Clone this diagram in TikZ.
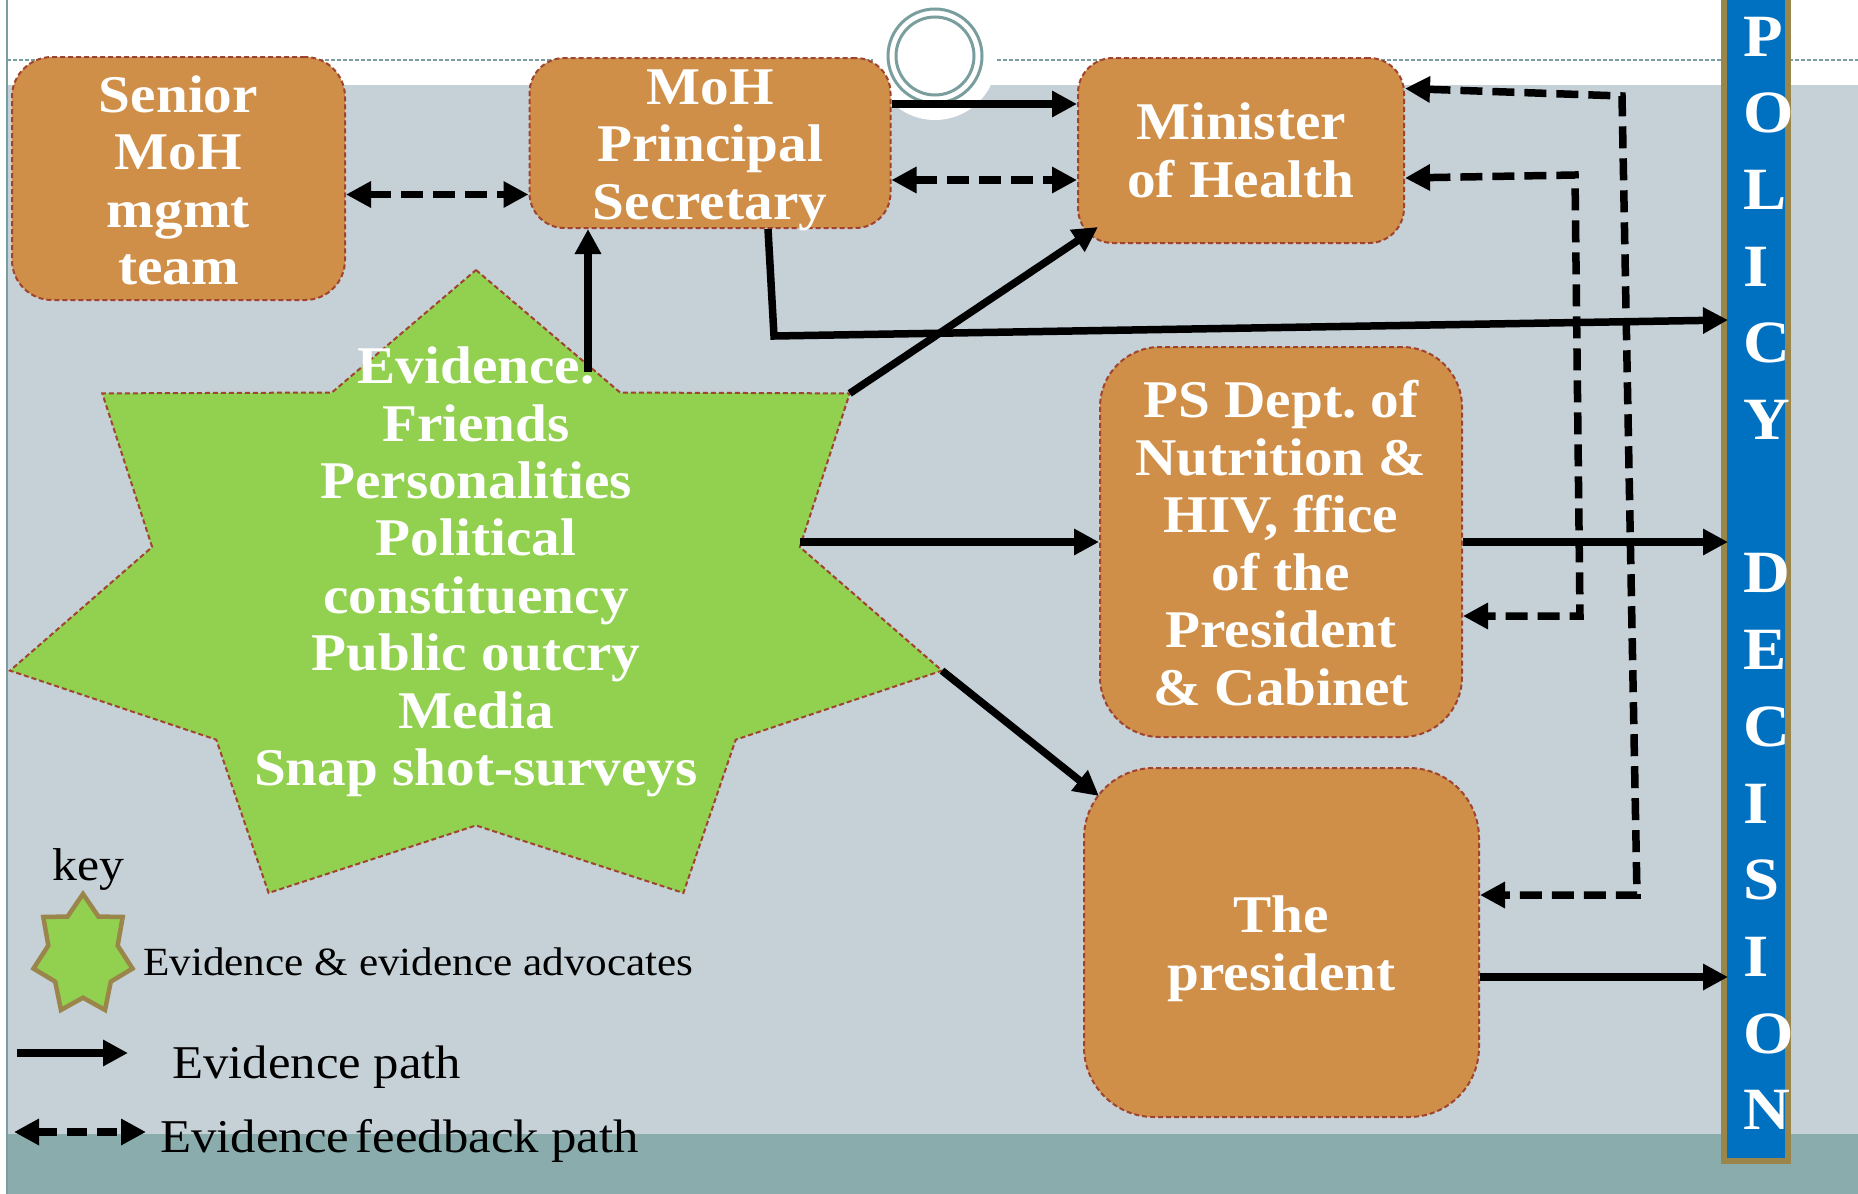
\documentclass[tikz,border=0pt]{standalone}
\usepackage{fontspec}
\setmainfont{Liberation Serif}[FakeStretch=1.08]
\usetikzlibrary{arrows.meta,calc}
\frenchspacing
\definecolor{bggrey}{HTML}{C5D0D7}
\definecolor{band}{HTML}{8AACAC}
\definecolor{boxfill}{HTML}{D08F48}
\definecolor{boxline}{HTML}{A0432F}
\definecolor{stargreen}{HTML}{92D050}
\definecolor{barblue}{HTML}{0070C0}
\definecolor{barline}{HTML}{9A854A}
\definecolor{ringc}{HTML}{7A9E9E}
\tikzset{
  orgbox/.style={draw=boxline, line width=2pt, dash pattern=on 5pt off 3pt, fill=boxfill, inner sep=0pt},
  boxtext/.style={text=white, align=center, font=\bfseries\fontsize{53}{57.5}\selectfont, inner sep=0pt},
  evline/.style={line width=7.5pt, -{Triangle[length=25pt,width=25pt]}},
  fbline/.style={line width=7.5pt, dash pattern=on 22pt off 10pt,
    {Triangle[length=25pt,width=25pt]}-{Triangle[length=25pt,width=25pt]}},
  keytext/.style={anchor=base west, inner sep=0pt, text=black},
  barletter/.style={anchor=base west, inner sep=0pt, text=white, font=\bfseries\fontsize{60}{60}\selectfont},
}
\begin{document}
\begin{tikzpicture}[x=1pt,y=-1pt]
\useasboundingbox (0,0) rectangle (1858,1194);
% background
\fill[white] (0,0) rectangle (1858,1194);
\fill[bggrey] (7,85) rectangle (1858,1134);
\fill[band] (7,1134) rectangle (1858,1194);
\draw[ringc, line width=1.5pt, dash pattern=on 4pt off 2pt] (7,60) -- (1858,60);
\draw[ringc, line width=2pt] (7,0) -- (7,1194);
\fill[white] (935,58) circle (62);
\draw[ringc, line width=3pt] (935,56) circle (47);
\draw[ringc, line width=3pt] (935,56) circle (39);

% boxes
\node[orgbox, minimum width=333pt, minimum height=243pt, rounded corners=40pt] (sen) at (178.5,178.5) {};
\node[boxtext] (sentext) at ($(sen.center)+(0,2)$) {Senior\\MoH\\mgmt\\team};
\node[orgbox, minimum width=361pt, minimum height=170pt, rounded corners=35pt] (ps) at (710,143) {};
\node[boxtext] (pstext) at ($(ps.center)+(0,7)$) {MoH\\Principal\\Secretary};
\node[orgbox, minimum width=326pt, minimum height=185pt, rounded corners=35pt] (min) at (1241,150.5) {};
\node[boxtext] (mintext) at (min.center) {Minister\\of Health};
\node[orgbox, minimum width=362pt, minimum height=390pt, rounded corners=60pt] (psd) at (1281,542) {};
\node[boxtext] (psdtext) at ($(psd.center)+(0,1)$) {PS Dept. of\\Nutrition \&\\HIV, ffice\\of the\\President\\\& Cabinet};
\node[orgbox, minimum width=395pt, minimum height=349pt, rounded corners=70pt] (pres) at (1281.5,942.5) {};
\node[boxtext] (prestext) at ($(pres.center)+(0,6)$) {The\\president};

% star
\foreach \k in {0,...,13} {
  \pgfmathsetmacro\rr{ifthenelse(mod(\k,2)==0,1,0.695)}
  \coordinate (s\k) at ({476+\rr*478*cos(90-25.7143*\k)}, {597.7-\rr*327.7*sin(90-25.7143*\k)});
}
\draw[boxline, line width=2pt, dash pattern=on 5pt off 3pt, fill=stargreen] (s0) \foreach \k in {1,...,13}{ -- (s\k)} -- cycle;
\node[boxtext, font=\bfseries\fontsize{53}{57.4}\selectfont] (evtext) at (476,572)
  {Evidence.\\Friends\\Personalities\\Political\\constituency\\Public outcry\\Media\\Snap shot-surveys};

% policy decision bar
\node[draw=barline, line width=6pt, fill=barblue, minimum width=64pt, minimum height=1178pt, inner sep=0pt] (bar) at (1756,572) {};
\foreach \l/\k in {P/0,O/1,L/2,I/3,C/4,Y/5,D/7,E/8,C/9,I/10,S/11,I/12,O/13,N/14}
  \node[barletter] (pl\k) at (1743,{56+76.7*\k}) {\l};
\coordinate (bw) at ($(bar.west)+(7,0)$);

% connectors
\draw[fbline] ($(sen.east)+(0,16)$) coordinate (a1) -- (a1 -| ps.west);
\coordinate (evtop) at (588,372);
\draw[evline] (evtop) -- (evtop |- ps.south);
\draw[evline] ($(ps.east)+(0,-39)$) coordinate (a3) -- (a3 -| min.west);
\draw[fbline] ($(ps.east)+(0,37)$) coordinate (a4) -- (a4 -| min.west);
\coordinate (k5) at (774,336);
\draw[evline] ($(ps.south)+(58,0)$) -- (k5) -- ($(bw)+(0,-252)$);
\draw[evline] (s2) -- ($(min.south west)+(21,-17)$);
\draw[evline] (s3 |- psd.west) -- (psd.west);
\draw[evline] (s4) -- ($(pres.north west)+(16,29)$);
\draw[evline] (psd.east) -- (psd.east -| bw);
\draw[evline] ($(pres.east)+(0,34.5)$) coordinate (a10) -- (a10 -| bw);
\coordinate (c1) at (1622,96);
\coordinate (c2) at (1637,895);
\draw[fbline] ($(min.east)+(0,-62)$) -- (c1) -- (c2) -- (c2 -| pres.east);
\coordinate (c3) at (1575,175);
\coordinate (c4) at (1580,616);
\draw[fbline] ($(min.east)+(0,27.5)$) -- (c3) -- (c4) -- (c4 -| psd.east);

% key
\node[keytext, font=\fontsize{46}{46}\selectfont] (keyt) at (52,880) {key};
\foreach \k in {0,...,13} {
  \pgfmathsetmacro\rr{ifthenelse(mod(\k,2)==0,1,0.7)}
  \coordinate (ks\k) at ({83+\rr*50.8*cos(90-25.7143*\k)}, {955-\rr*61*sin(90-25.7143*\k)});
}
\draw[barline, line width=4.5pt, fill=stargreen, line join=miter] (ks0) \foreach \k in {1,...,13}{ -- (ks\k)} -- cycle;
\node[keytext, font=\fontsize{40}{40}\selectfont] (kt1) at (143,975) {Evidence \& evidence advocates};
\coordinate (ka1) at (17,1053);
\coordinate (ka2) at (128,1053);
\draw[evline] (ka1) -- (ka2);
\node[keytext, font=\fontsize{47}{47}\selectfont] (kt2) at (172,1078) {Evidence path};
\coordinate (kb1) at (14,1132);
\coordinate (kb2) at (146,1132);
\draw[fbline, dash pattern=on 20pt off 10pt] (kb1) -- (kb2);
\node[keytext, font=\fontsize{47}{47}\selectfont] (kt3) at (160,1152) {Evidence\hspace{-6pt} feedback path};
\end{tikzpicture}
\end{document}
